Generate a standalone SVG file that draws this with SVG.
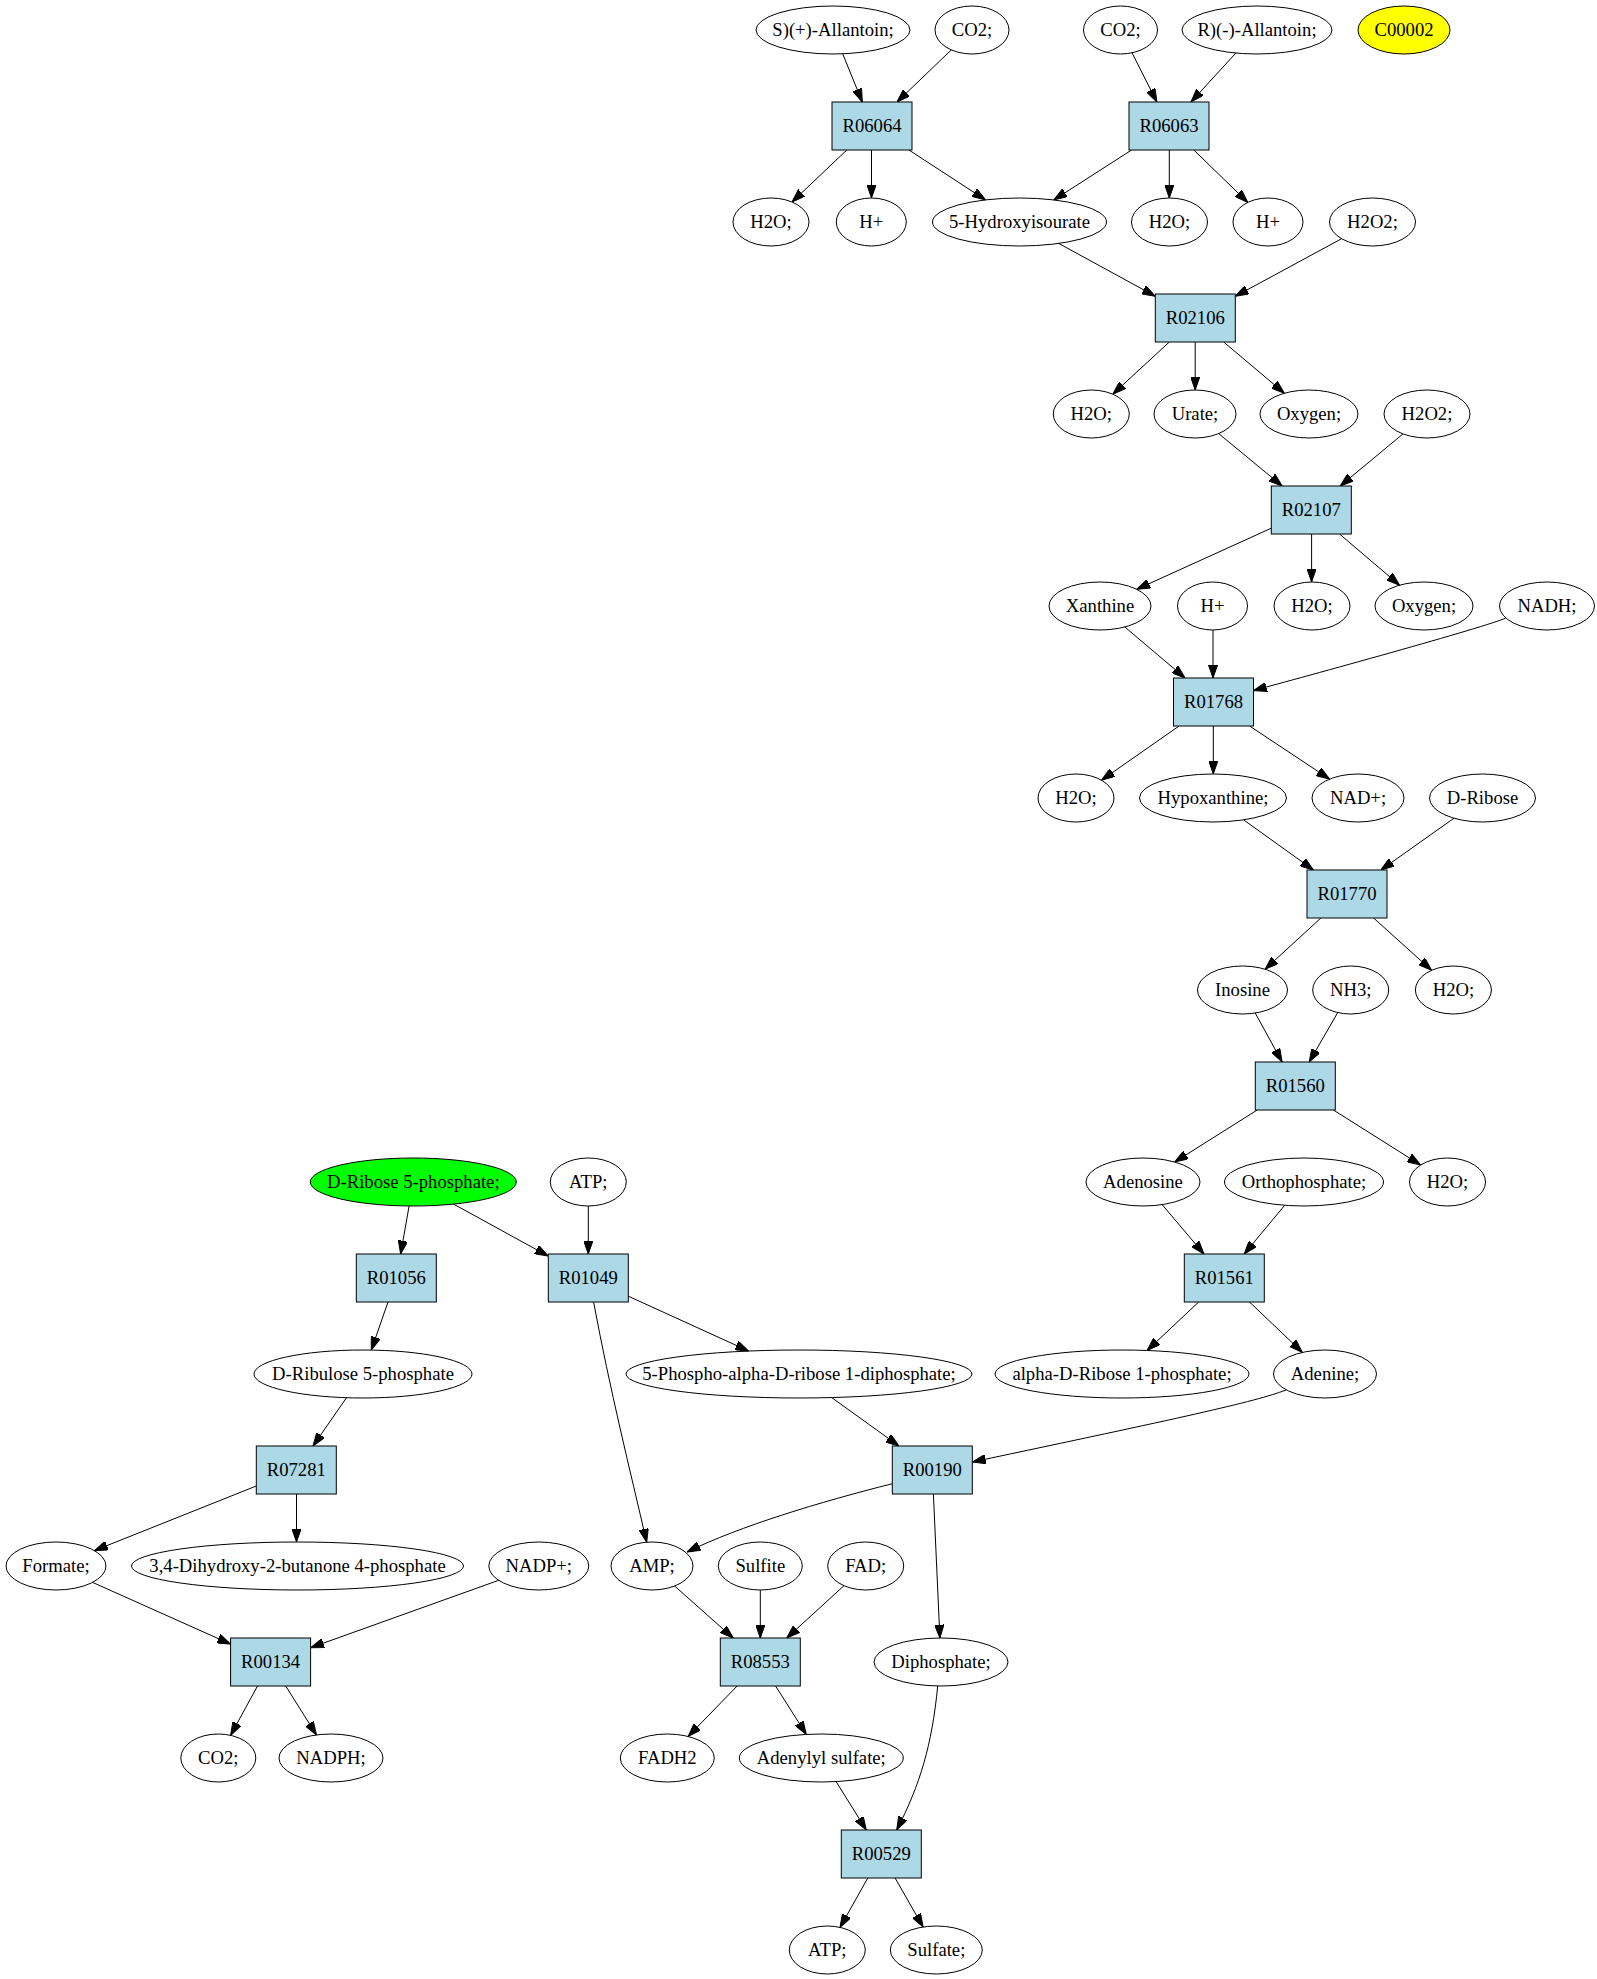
<svg xmlns="http://www.w3.org/2000/svg" width="1597" height="1979" viewBox="0 0 1597 1979">
<style>
.n ellipse{fill:none;stroke:#000;stroke-width:1}
.g ellipse{fill:#00ff00}
.y ellipse{fill:#ffff00}
.r rect{fill:#add8e6;stroke:#000;stroke-width:1}
text{font-family:"Liberation Serif","Times New Roman",serif;font-size:18.67px;text-anchor:middle;fill:#000}
#edges path{fill:none;stroke:#000;stroke-width:1;marker-end:url(#arr)}
</style>
<defs>
<marker id="arr" markerUnits="userSpaceOnUse" viewBox="0 0 13.33 9.33" markerWidth="13.33" markerHeight="9.33" refX="13.33" refY="4.67" orient="auto">
<path d="M0,0 L13.33,4.67 L0,9.33 z" fill="#000" stroke="#000" stroke-width="1"/>
</marker>
</defs>
<rect x="0" y="0" width="1597" height="1979" fill="#fff"/>
<g id="edges">
<path d="M842.7,53.8 L862.3,102"/>
<path d="M951.3,49.9 L897,102"/>
<path d="M1132,52.8 L1156.9,102"/>
<path d="M1235.9,53 L1191,102"/>
<path d="M846.8,150 L792,202"/>
<path d="M871.5,150 L871.5,198"/>
<path d="M908.9,150 L985.5,199.9"/>
<path d="M1131.6,150 L1053.8,200"/>
<path d="M1169.3,150 L1169.3,198"/>
<path d="M1193.8,150 L1247.8,202.4"/>
<path d="M1058.7,243.4 L1155.3,296.2"/>
<path d="M1341.6,238.7 L1235.3,296.3"/>
<path d="M1169.3,342 L1112.8,394.2"/>
<path d="M1195.2,342 L1195.2,390"/>
<path d="M1223.7,342 L1284.4,393.2"/>
<path d="M1218.7,433.6 L1282.2,486"/>
<path d="M1403,433.9 L1340.2,486"/>
<path d="M1271.3,528.2 L1136.7,589.3"/>
<path d="M1311.6,534 L1311.6,582"/>
<path d="M1339.5,534 L1399.6,585.2"/>
<path d="M1124.8,627 L1185.1,678"/>
<path d="M1213,630 L1213,678"/>
<path d="M1505.7,618 C1490,626 1300,678 1253.5,690.5"/>
<path d="M1179.1,726 L1101.5,780.2"/>
<path d="M1213.3,726 L1213.3,774"/>
<path d="M1249.6,726 L1329.6,779.1"/>
<path d="M1243.5,819.8 L1313.5,870"/>
<path d="M1454,818.2 L1380.9,870"/>
<path d="M1320.9,918 L1265.1,969.2"/>
<path d="M1373.6,918 L1431.6,970.3"/>
<path d="M1255.2,1013 L1282.1,1062"/>
<path d="M1337.7,1012.6 L1309.2,1062"/>
<path d="M1257.2,1110 L1174.7,1162"/>
<path d="M1333.4,1110 L1420.6,1165"/>
<path d="M1162.1,1204.6 L1204,1254"/>
<path d="M1284.7,1205.3 L1244.2,1254"/>
<path d="M1198.7,1302 L1147.1,1350.5"/>
<path d="M1249.5,1302 L1302.4,1352.4"/>
<path d="M1286,1390 C1255,1402 1180,1418 972.3,1462"/>
<path d="M409.1,1206 L400.6,1254"/>
<path d="M453.6,1204.1 L548.3,1256.1"/>
<path d="M588.3,1206 L588.3,1254"/>
<path d="M388,1302 L371.3,1350.1"/>
<path d="M628.3,1296.2 L748.6,1351"/>
<path d="M593.6,1302 C610,1390 630,1470 646.7,1542.2"/>
<path d="M346.5,1397.7 L313,1446"/>
<path d="M831.7,1397.6 L899,1446"/>
<path d="M256.3,1486 L94.4,1550.6"/>
<path d="M296.5,1494 L296.5,1542"/>
<path d="M92.6,1582.4 L230.6,1644.1"/>
<path d="M498.7,1580.3 L310.6,1647.7"/>
<path d="M257.5,1686 L230.6,1735.3"/>
<path d="M285.7,1686 L316.5,1735"/>
<path d="M892.3,1483.7 C820,1502 740,1526 687,1552"/>
<path d="M933.4,1494 L939.9,1638"/>
<path d="M674.6,1586 L733.2,1638"/>
<path d="M760.3,1590 L760.3,1638"/>
<path d="M844,1585.7 L786.7,1638"/>
<path d="M737.1,1686 L688.1,1736.5"/>
<path d="M775.6,1686 L806.3,1734.4"/>
<path d="M836.1,1781.6 L866.3,1830"/>
<path d="M937.7,1686 C932,1745 920,1785 896.7,1830"/>
<path d="M867.8,1878 L840,1927.4"/>
<path d="M895.1,1878 L923.1,1927"/>
</g>
<g id="n_sall" class="n"><ellipse cx="833" cy="30" rx="77" ry="24"/><text x="833" y="36">S)(+)-Allantoin;</text></g>
<g id="n_co2a" class="n"><ellipse cx="972" cy="30" rx="37" ry="24"/><text x="972" y="36">CO2;</text></g>
<g id="n_co2b" class="n"><ellipse cx="1120.5" cy="30" rx="37" ry="24"/><text x="1120.5" y="36">CO2;</text></g>
<g id="n_rall" class="n"><ellipse cx="1257" cy="30" rx="75" ry="24"/><text x="1257" y="36">R)(-)-Allantoin;</text></g>
<g id="n_c00002" class="n y"><ellipse cx="1404" cy="30" rx="46" ry="24"/><text x="1404" y="36">C00002</text></g>
<g id="R06064" class="r"><rect x="832" y="102" width="80" height="48"/><text x="872" y="132">R06064</text></g>
<g id="R06063" class="r"><rect x="1129" y="102" width="80" height="48"/><text x="1169" y="132">R06063</text></g>
<g id="n_h2o_1" class="n"><ellipse cx="771" cy="222" rx="38" ry="24"/><text x="771" y="228">H2O;</text></g>
<g id="n_hp_1" class="n"><ellipse cx="871.3" cy="222" rx="35" ry="24"/><text x="871.3" y="228">H+</text></g>
<g id="n_hiu" class="n"><ellipse cx="1019.5" cy="222" rx="87" ry="24"/><text x="1019.5" y="228">5-Hydroxyisourate</text></g>
<g id="n_h2o_2" class="n"><ellipse cx="1169.5" cy="222" rx="38" ry="24"/><text x="1169.5" y="228">H2O;</text></g>
<g id="n_hp_2" class="n"><ellipse cx="1268" cy="222" rx="35" ry="24"/><text x="1268" y="228">H+</text></g>
<g id="n_h2o2_1" class="n"><ellipse cx="1372.5" cy="222" rx="43" ry="24"/><text x="1372.5" y="228">H2O2;</text></g>
<g id="R02106" class="r"><rect x="1155.3" y="294" width="80" height="48"/><text x="1195.3" y="324">R02106</text></g>
<g id="n_h2o_3" class="n"><ellipse cx="1091.3" cy="414" rx="38" ry="24"/><text x="1091.3" y="420">H2O;</text></g>
<g id="n_urate" class="n"><ellipse cx="1195" cy="414" rx="41" ry="24"/><text x="1195" y="420">Urate;</text></g>
<g id="n_oxy_1" class="n"><ellipse cx="1309" cy="414" rx="49" ry="24"/><text x="1309" y="420">Oxygen;</text></g>
<g id="n_h2o2_2" class="n"><ellipse cx="1427" cy="414" rx="43" ry="24"/><text x="1427" y="420">H2O2;</text></g>
<g id="R02107" class="r"><rect x="1271.3" y="486" width="80" height="48"/><text x="1311.3" y="516">R02107</text></g>
<g id="n_xan" class="n"><ellipse cx="1100" cy="606" rx="51" ry="24"/><text x="1100" y="612">Xanthine</text></g>
<g id="n_hp_3" class="n"><ellipse cx="1212.5" cy="606" rx="35" ry="24"/><text x="1212.5" y="612">H+</text></g>
<g id="n_h2o_4" class="n"><ellipse cx="1312" cy="606" rx="38" ry="24"/><text x="1312" y="612">H2O;</text></g>
<g id="n_oxy_2" class="n"><ellipse cx="1424" cy="606" rx="49" ry="24"/><text x="1424" y="612">Oxygen;</text></g>
<g id="n_nadh" class="n"><ellipse cx="1547" cy="606" rx="47.5" ry="24"/><text x="1547" y="612">NADH;</text></g>
<g id="R01768" class="r"><rect x="1173.5" y="678" width="80" height="48"/><text x="1213.5" y="708">R01768</text></g>
<g id="n_h2o_5" class="n"><ellipse cx="1076" cy="798" rx="38" ry="24"/><text x="1076" y="804">H2O;</text></g>
<g id="n_hypo" class="n"><ellipse cx="1213" cy="798" rx="73.5" ry="24"/><text x="1213" y="804">Hypoxanthine;</text></g>
<g id="n_nad" class="n"><ellipse cx="1358" cy="798" rx="46" ry="24"/><text x="1358" y="804">NAD+;</text></g>
<g id="n_drib" class="n"><ellipse cx="1482.5" cy="798" rx="53" ry="24"/><text x="1482.5" y="804">D-Ribose</text></g>
<g id="R01770" class="r"><rect x="1307" y="870" width="80" height="48"/><text x="1347" y="900">R01770</text></g>
<g id="n_ino" class="n"><ellipse cx="1242.5" cy="990" rx="45" ry="24"/><text x="1242.5" y="996">Inosine</text></g>
<g id="n_nh3" class="n"><ellipse cx="1350.7" cy="990" rx="38" ry="24"/><text x="1350.7" y="996">NH3;</text></g>
<g id="n_h2o_6" class="n"><ellipse cx="1453.4" cy="990" rx="38" ry="24"/><text x="1453.4" y="996">H2O;</text></g>
<g id="R01560" class="r"><rect x="1255.3" y="1062" width="80" height="48"/><text x="1295.3" y="1092">R01560</text></g>
<g id="n_r5p" class="n g"><ellipse cx="413.3" cy="1182" rx="103" ry="24"/><text x="413.3" y="1188">D-Ribose 5-phosphate;</text></g>
<g id="n_atp_1" class="n"><ellipse cx="588.3" cy="1182" rx="38" ry="24"/><text x="588.3" y="1188">ATP;</text></g>
<g id="n_ado" class="n"><ellipse cx="1143" cy="1182" rx="57" ry="24"/><text x="1143" y="1188">Adenosine</text></g>
<g id="n_pi" class="n"><ellipse cx="1304" cy="1182" rx="79.5" ry="24"/><text x="1304" y="1188">Orthophosphate;</text></g>
<g id="n_h2o_7" class="n"><ellipse cx="1447.5" cy="1182" rx="38" ry="24"/><text x="1447.5" y="1188">H2O;</text></g>
<g id="R01056" class="r"><rect x="356.3" y="1254" width="80" height="48"/><text x="396.3" y="1284">R01056</text></g>
<g id="R01049" class="r"><rect x="548.3" y="1254" width="80" height="48"/><text x="588.3" y="1284">R01049</text></g>
<g id="R01561" class="r"><rect x="1184.3" y="1254" width="80" height="48"/><text x="1224.3" y="1284">R01561</text></g>
<g id="n_ru5p" class="n"><ellipse cx="363" cy="1374" rx="109" ry="24"/><text x="363" y="1380">D-Ribulose 5-phosphate</text></g>
<g id="n_prpp" class="n"><ellipse cx="799" cy="1374" rx="173" ry="24"/><text x="799" y="1380">5-Phospho-alpha-D-ribose 1-diphosphate;</text></g>
<g id="n_r1p" class="n"><ellipse cx="1122" cy="1374" rx="127" ry="24"/><text x="1122" y="1380">alpha-D-Ribose 1-phosphate;</text></g>
<g id="n_ade" class="n"><ellipse cx="1325" cy="1374" rx="51.5" ry="24"/><text x="1325" y="1380">Adenine;</text></g>
<g id="R07281" class="r"><rect x="256.3" y="1446" width="80" height="48"/><text x="296.3" y="1476">R07281</text></g>
<g id="R00190" class="r"><rect x="892.3" y="1446" width="80" height="48"/><text x="932.3" y="1476">R00190</text></g>
<g id="n_form" class="n"><ellipse cx="56" cy="1566" rx="50" ry="24"/><text x="56" y="1572">Formate;</text></g>
<g id="n_dhbp" class="n"><ellipse cx="297.5" cy="1566" rx="166" ry="24"/><text x="297.5" y="1572">3,4-Dihydroxy-2-butanone 4-phosphate</text></g>
<g id="n_nadp" class="n"><ellipse cx="538.8" cy="1566" rx="50" ry="24"/><text x="538.8" y="1572">NADP+;</text></g>
<g id="n_amp" class="n"><ellipse cx="652" cy="1566" rx="41" ry="24"/><text x="652" y="1572">AMP;</text></g>
<g id="n_sulfite" class="n"><ellipse cx="760.3" cy="1566" rx="42" ry="24"/><text x="760.3" y="1572">Sulfite</text></g>
<g id="n_fad" class="n"><ellipse cx="865.7" cy="1566" rx="38" ry="24"/><text x="865.7" y="1572">FAD;</text></g>
<g id="R00134" class="r"><rect x="230.6" y="1638" width="80" height="48"/><text x="270.6" y="1668">R00134</text></g>
<g id="R08553" class="r"><rect x="720.3" y="1638" width="80" height="48"/><text x="760.3" y="1668">R08553</text></g>
<g id="n_ppi" class="n"><ellipse cx="941" cy="1662" rx="67" ry="24"/><text x="941" y="1668">Diphosphate;</text></g>
<g id="n_co2c" class="n"><ellipse cx="218.3" cy="1758" rx="37.5" ry="24"/><text x="218.3" y="1764">CO2;</text></g>
<g id="n_nadph" class="n"><ellipse cx="331" cy="1758" rx="52" ry="24"/><text x="331" y="1764">NADPH;</text></g>
<g id="n_fadh2" class="n"><ellipse cx="667.3" cy="1758" rx="47" ry="24"/><text x="667.3" y="1764">FADH2</text></g>
<g id="n_aps" class="n"><ellipse cx="821.3" cy="1758" rx="82" ry="24"/><text x="821.3" y="1764">Adenylyl sulfate;</text></g>
<g id="R00529" class="r"><rect x="841.3" y="1830" width="80" height="48"/><text x="881.3" y="1860">R00529</text></g>
<g id="n_atp_2" class="n"><ellipse cx="827.3" cy="1950" rx="38" ry="24"/><text x="827.3" y="1956">ATP;</text></g>
<g id="n_sulfate" class="n"><ellipse cx="936.3" cy="1950" rx="46" ry="24"/><text x="936.3" y="1956">Sulfate;</text></g>
</svg>
